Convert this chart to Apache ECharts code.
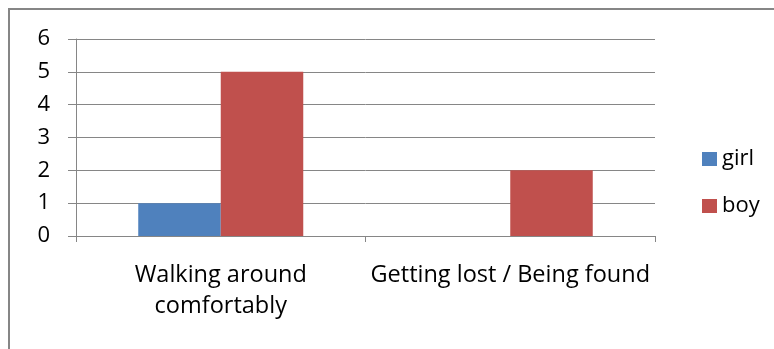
<!DOCTYPE html>
<html>
<head>
<meta charset="utf-8">
<script src="https://cdn.jsdelivr.net/npm/echarts@6/dist/echarts.min.js"></script>
<style>
  html, body { margin: 0; padding: 0; background: #fff; }
  #chart { width: 774px; height: 349px; }
</style>
</head>
<body>
<div id="chart"></div>
<script>
// Activities and counts per group
const categories = ['Walking around\ncomfortably', 'Getting lost / Being found'];
const girl = [1, 0];
const boy = [5, 2];
const yTicks = { min: 0, max: 6, interval: 1 };

const FONT = '"Open Sans", "Liberation Sans", Arial, sans-serif';
const GRAY = '#868686';

const chart = echarts.init(document.getElementById('chart'), null, { renderer: 'canvas' });
chart.setOption({
  animation: false,
  backgroundColor: '#ffffff',
  textStyle: { fontFamily: FONT },
  graphic: [{
    type: 'rect',
    shape: { x: 9, y: 9, width: 900, height: 500 },
    style: { fill: 'none', stroke: GRAY, lineWidth: 2 },
    silent: true
  }],
  grid: { left: 76, right: 119, top: 39, bottom: 113, containLabel: false },
  legend: {
    orient: 'vertical',
    left: 697,
    top: 143,
    itemWidth: 15,
    itemHeight: 14,
    itemGap: 25,
    icon: 'rect',
    textStyle: { fontFamily: FONT, fontSize: 22, color: '#000' },
    data: ['girl', 'boy']
  },
  xAxis: {
    type: 'category',
    data: categories,
    axisLine: { lineStyle: { color: GRAY, width: 1 } },
    axisTick: { show: true, length: 6, alignWithLabel: false, lineStyle: { color: GRAY } },
    axisLabel: { color: '#000', fontSize: 23.5, fontFamily: FONT, margin: 24, lineHeight: 31, interval: 0 },
    splitLine: { show: false }
  },
  yAxis: {
    type: 'value',
    min: yTicks.min,
    max: yTicks.max,
    interval: yTicks.interval,
    axisLine: { show: true, lineStyle: { color: GRAY, width: 1 } },
    axisTick: { show: true, length: 8, lineStyle: { color: GRAY } },
    axisLabel: { color: '#000', fontSize: 22, fontFamily: FONT, margin: 26 },
    splitLine: { show: true, lineStyle: { color: GRAY, width: 1 } }
  },
  series: [
    {
      name: 'girl', type: 'bar', data: girl,
      itemStyle: { color: '#4F81BD' },
      barGap: '0%', barCategoryGap: '43%'
    },
    {
      name: 'boy', type: 'bar', data: boy,
      itemStyle: { color: '#C0504D' },
      barGap: '0%', barCategoryGap: '43%'
    }
  ]
});
</script>
</body>
</html>
